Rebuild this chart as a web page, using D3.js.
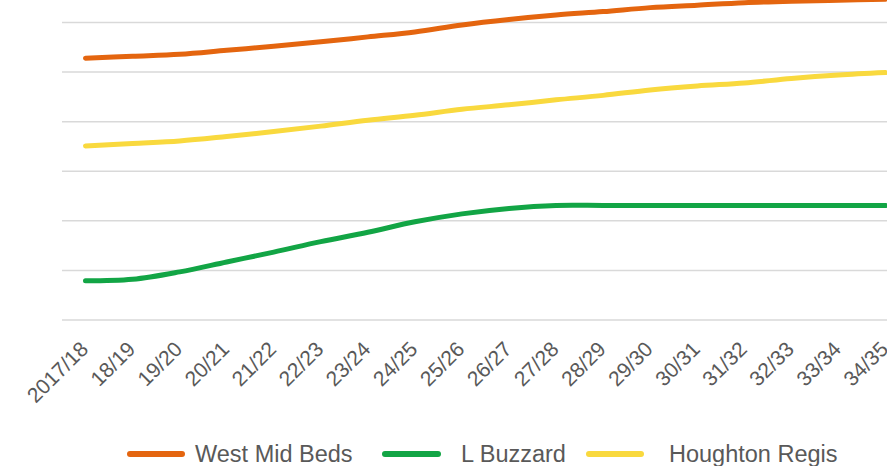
<!DOCTYPE html>
<html>
<head>
<meta charset="utf-8">
<script src="https://cdn.jsdelivr.net/npm/d3@7"></script>
<style>
  html, body { margin: 0; padding: 0; background: #fff; }
  svg { display: block; }
</style>
</head>
<body>
<svg id="chart" width="887" height="466"></svg>
<script>
const categories = ["2017/18","18/19","19/20","20/21","21/22","22/23","23/24","24/25","25/26","26/27","27/28","28/29","29/30","30/31","31/32","32/33","33/34","34/35"];

const westMidBeds = [5.28,5.32,5.36,5.44,5.52,5.61,5.71,5.81,5.95,6.06,6.15,6.22,6.30,6.35,6.40,6.43,6.45,6.47];
const lBuzzard    = [0.79,0.82,0.97,1.17,1.37,1.58,1.77,1.98,2.14,2.25,2.31,2.31,2.31,2.31,2.31,2.31,2.31,2.31];
const houghtonRegis = [3.51,3.56,3.61,3.70,3.80,3.91,4.03,4.13,4.25,4.34,4.44,4.53,4.64,4.72,4.78,4.87,4.94,4.99];

const yTicks = [0,1,2,3,4,5,6,7];

const seriesNames = ["West Mid Beds","L Buzzard","Houghton Regis"];
const seriesColors = ["#E4650F","#12A545","#F9D93E"];

const series = [
  {name: seriesNames[0], values: westMidBeds, color: seriesColors[0]},
  {name: seriesNames[1], values: lBuzzard, color: seriesColors[1]},
  {name: seriesNames[2], values: houghtonRegis, color: seriesColors[2]}
];

const svg = d3.select("#chart");
const plotLeft = 62, plotRight = 909;

const x = d3.scalePoint().domain(categories).range([85.5, 885.5]);
const y = d3.scaleLinear().domain([0, 6]).range([320, 22.5]);

// gridlines
svg.append("g").selectAll("line").data(yTicks).join("line")
  .attr("x1", plotLeft).attr("x2", plotRight)
  .attr("y1", d => y(d)).attr("y2", d => y(d))
  .attr("stroke", "#D9D9D9").attr("stroke-width", 1.5);

// x axis labels
const xAxis = d3.axisBottom(x).tickSize(0).tickPadding(0);
const gx = svg.append("g").attr("transform", "translate(0,340)").call(xAxis);
gx.select(".domain").remove();
gx.selectAll("text")
  .attr("font-family", "Liberation Sans, Arial, sans-serif")
  .attr("font-size", 21)
  .attr("fill", "#595959")
  .attr("text-anchor", "end")
  .attr("dy", "0.7em")
  .attr("transform", "translate(-7,0) rotate(-45)");

// lines
const line = d3.line()
  .x((d, i) => x(categories[i]))
  .y(d => y(d))
  .curve(d3.curveCatmullRom.alpha(0.5));

svg.append("g").selectAll("path").data(series).join("path")
  .attr("d", d => line(d.values))
  .attr("fill", "none")
  .attr("stroke", d => d.color)
  .attr("stroke-width", 5)
  .attr("stroke-linecap", "round")
  .attr("stroke-linejoin", "round");

// legend
const legendY = 454;
const legendLayout = [
  {sx: 130, ex: 182, tx: 195},
  {sx: 385, ex: 438, tx: 461},
  {sx: 589, ex: 641, tx: 669}
];
const lg = svg.append("g");
series.forEach((s, i) => {
  const L = legendLayout[i];
  lg.append("line").attr("x1", L.sx).attr("x2", L.ex)
    .attr("y1", legendY).attr("y2", legendY)
    .attr("stroke", s.color).attr("stroke-width", 6).attr("stroke-linecap", "round");
  lg.append("text").attr("x", L.tx).attr("y", legendY).attr("dy", "0.35em")
    .attr("font-family", "Liberation Sans, Arial, sans-serif")
    .attr("font-size", 23.5).attr("fill", "#595959")
    .text(s.name);
});
</script>
</body>
</html>
